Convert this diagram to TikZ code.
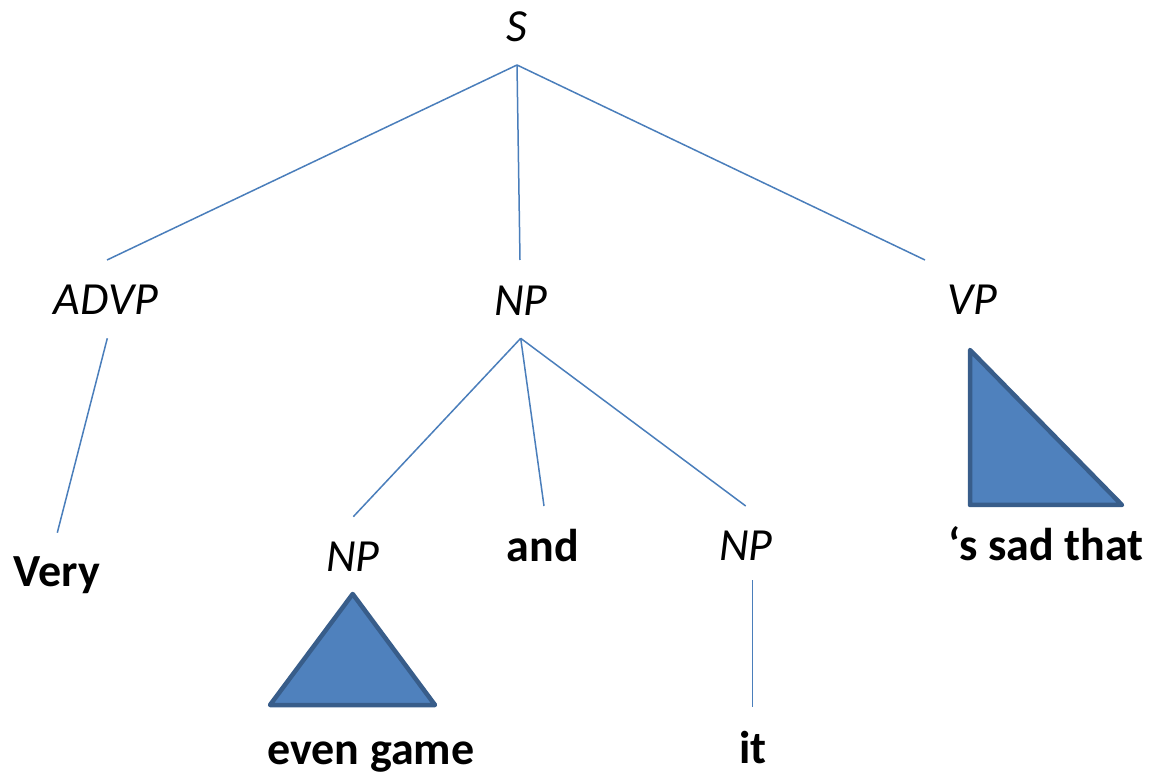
\documentclass[tikz,border=0pt]{standalone}
\usepackage{fontspec}
\setmainfont{Carlito}
\definecolor{branchblue}{HTML}{4A7EBB}
\definecolor{rooffill}{HTML}{4F81BD}
\definecolor{roofline}{HTML}{385D8A}
\tikzset{cat/.style={
    anchor=base, inner sep=0pt,
    font=\fontsize{46}{50}\selectfont\itshape},
  word/.style={
    anchor=base, inner sep=0pt,
    font=\fontsize{46}{50}\selectfont\bfseries},
  branch/.style={draw=branchblue, line width=1.5pt},
  roof/.style={draw=roofline, fill=rooffill, line width=4.5pt, line join=round}}

\begin{document}
\begin{tikzpicture}[x=1pt,y=-1pt]
\useasboundingbox (0,0) rectangle (1152,775);

% categories
\node[cat] (s) at (516.5,41.7) {S};
\node[cat] (advp) at (106,315) {ADVP};
\node[cat] (np) at (521,316) {NP};
\node[cat] (vp) at (972,315) {VP};
\node[cat] (npa) at (353,571.7) {NP};
\node[cat] (npb) at (746,560.7) {NP};

% words
\node[word] (very) at (57,586.7) {Very};
\node[word] (and) at (543,561.7) {and};
\node[word] (evengame) at (371,764) {even game};
\node[word] (it) at (752.7,763.3) {it};
\node[word] (sadthat) at (1046,560) {‘s sad that};

% branch ends
\coordinate (s0) at (517,65);
\coordinate (advp0) at (107,260);
\coordinate (np0) at (520,260);
\coordinate (vp0) at (925,260);
\coordinate (advp1) at (107.3,338.3);
\coordinate (very0) at (57.3,532.7);
\coordinate (np1) at (520.7,338.3);
\coordinate (npa0) at (353.3,516.7);
\coordinate (and0) at (544,506);
\coordinate (npb0) at (745.7,506);
\coordinate (npb1) at (752.7,580);
\coordinate (it0) at (752.7,707.3);

\path[branch] (s0) -- (advp0);
\path[branch] (s0) -- (np0);
\path[branch] (s0) -- (vp0);
\path[branch] (advp1) -- (very0);
\path[branch] (np1) -- (npa0);
\path[branch] (np1) -- (and0);
\path[branch] (np1) -- (npb0);
\path[branch] (npb1) -- (it0);

% roofs
\path[roof] (352.7,594) -- (435,705) -- (270,705) -- cycle;
\path[roof] (970,350) -- (1122,505) -- (970,505) -- cycle;

\end{tikzpicture}
\end{document}
